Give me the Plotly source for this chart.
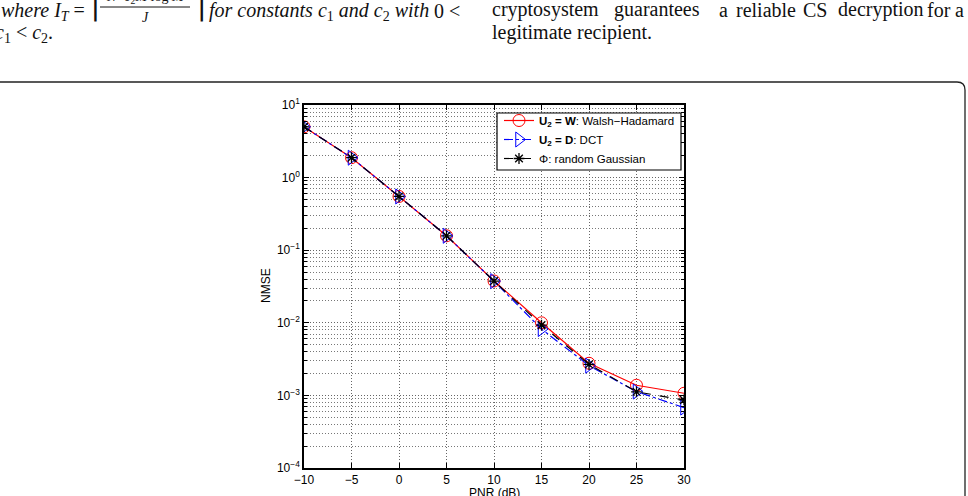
import plotly.graph_objects as go

pnr = [-10, -5, 0, 5, 10, 15, 20, 25, 30]
nmse_wh = [5.0, 1.88, 0.55, 0.158, 0.0377, 0.0100, 0.00277, 0.00138, 0.00107]
nmse_dct = [5.0, 1.88, 0.55, 0.158, 0.0375, 0.0082, 0.00257, 0.00113, 0.00068]
nmse_gauss = [5.0, 1.88, 0.55, 0.158, 0.0376, 0.0093, 0.00268, 0.00112, 0.000865]

x_ticks = [-10, -5, 0, 5, 10, 15, 20, 25, 30]
x_ticklabels = ["−10", "−5", "0", "5", "10", "15", "20", "25", "30"]
y_ticks = [1e-4, 1e-3, 1e-2, 1e-1, 1e0, 1e1]
y_ticklabels = ["10<sup>−4</sup>", "10<sup>−3</sup>", "10<sup>−2</sup>",
                "10<sup>−1</sup>", "10<sup>0</sup>", "10<sup>1</sup>"]

W, H = 968, 496
L, R, T, B = 304, 684, 105, 468


def px(X):
    return (X - L) / (R - L)


def py(Y):
    return (B - Y) / (B - T)


fig = go.Figure()
fig.add_trace(go.Scatter(
    x=pnr, y=nmse_wh, mode="lines+markers",
    name="<b>U<sub>2</sub> = W</b>: Walsh−Hadamard",
    line=dict(color="#ff0000", width=1.2),
    marker=dict(symbol="circle-open", size=12, color="#ff0000", line=dict(width=1))))
fig.add_trace(go.Scatter(
    x=pnr, y=nmse_dct, mode="lines+markers",
    name="<b>U<sub>2</sub> = D</b>: DCT",
    line=dict(color="#0000ff", width=1.2, dash="dashdot"),
    marker=dict(symbol="triangle-right-open", size=13, color="#0000ff", line=dict(width=1))))
fig.add_trace(go.Scatter(
    x=pnr, y=nmse_gauss, mode="lines+markers",
    name="Φ: random Gaussian",
    line=dict(color="#000000", width=1.2, dash="dash"),
    marker=dict(symbol="asterisk-open", size=9, color="#000000", line=dict(width=1.3))))

axis_font = dict(family="Liberation Sans, Arial, sans-serif", size=12, color="#000")
grid_dash = "1px,2px"

fig.update_xaxes(
    range=[-10, 30], tickvals=x_ticks, ticktext=x_ticklabels,
    showline=True, linecolor="#000", linewidth=1.6, mirror="ticks",
    ticks="inside", ticklen=5, tickcolor="#000",
    showgrid=True, gridcolor="#666", griddash=grid_dash, gridwidth=1,
    zeroline=False, tickfont=axis_font)
fig.update_yaxes(
    type="log", range=[-4, 1], tickvals=y_ticks, ticktext=y_ticklabels,
    showline=True, linecolor="#000", linewidth=1.6, mirror="ticks",
    ticks="inside", ticklen=5, tickcolor="#000",
    showgrid=True, gridcolor="#666", griddash=grid_dash, gridwidth=1,
    minor=dict(showgrid=True, gridcolor="#777", griddash=grid_dash, gridwidth=1,
               ticks="inside", ticklen=3, tickcolor="#000", dtick="D1"),
    zeroline=False, tickfont=axis_font)


def ann(X, Y, text, font, xanchor="left", **kw):
    return dict(x=px(X), y=py(Y), xref="paper", yref="paper", text=text,
                showarrow=False, xanchor=xanchor, yanchor="middle", font=font, **kw)


annotations = [
    ann(266, 286, "NMSE", axis_font, xanchor="center", textangle=-90),
    ann(494, 493, "PNR (dB)", axis_font, xanchor="center"),
]

serif = "Liberation Serif, Times New Roman, serif"
tf = dict(family=serif, size=20, color="#111")
small = dict(family=serif, size=14, color="#111")
big = dict(family=serif, size=26, color="#111")
annotations += [
    ann(-1, 11, "<i>where I<sub>T</sub></i> =", tf),
    ann(90, 10, "⌈", big),
    ann(145, -3, "<i>N</i>−<i>c</i><sub>2</sub><i>M</i> log <i>M</i>", small, xanchor="center"),
    ann(145, 18, "<i>J</i>", small, xanchor="center"),
    ann(193, 10, "⌉", big),
    ann(207, 11, "<i>for constants c</i><sub>1</sub> <i>and c</i><sub>2</sub> <i>with</i>", tf),
    ann(432, 11, "0 <", tf),
    ann(-7, 34, "<i>c</i><sub>1</sub> < <i>c</i><sub>2</sub>.", tf),
]

right_words = ["cryptosystem", "guarantees", "a", "reliable", "CS", "decryption", "for", "a"]
right_word_x = [490, 612, 717, 734, 801, 836, 925, 953]
for w_, xx in zip(right_words, right_word_x):
    annotations.append(ann(xx, 10, w_, tf))
annotations.append(ann(490, 32, "legitimate recipient.", tf))

frame_path = (f"M {px(-5)},{py(82)} L {px(957)},{py(82)} "
              f"Q {px(965)},{py(82)} {px(965)},{py(90)} L {px(965)},{py(505)}")
shapes = [dict(type="path", xref="paper", yref="paper", path=frame_path,
               line=dict(color="#222", width=1.3)),
          dict(type="line", xref="paper", yref="paper",
               x0=px(100), x1=px(190), y0=py(7), y1=py(7),
               line=dict(color="#111", width=1)),
          dict(type="rect", xref="paper", yref="paper", layer="above",
               x0=px(497), x1=px(681), y0=py(113), y1=py(170),
               fillcolor="white", line=dict(color="#000", width=1.2))]

fig.update_layout(
    width=W, height=H,
    margin=dict(l=L, r=W - R, t=T, b=H - B, autoexpand=False),
    paper_bgcolor="white", plot_bgcolor="white",
    showlegend=True,
    legend=dict(x=px(499), y=py(106), xanchor="left", yanchor="top",
                bgcolor="rgba(0,0,0,0)", borderwidth=0,
                font=dict(family="Liberation Sans, Arial, sans-serif", size=11.5, color="#000"),
                tracegroupgap=0, itemwidth=30),
    annotations=annotations, shapes=shapes,
)

fig.write_html("out.html")
